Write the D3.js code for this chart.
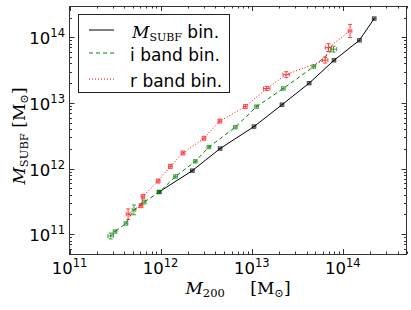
<!DOCTYPE html>
<html><head><meta charset="utf-8">
<script src="https://cdn.jsdelivr.net/npm/d3@7"></script>
<style>body{margin:0;background:#fff}svg{display:block}</style>
</head><body>
<script>
// ---- data (masses in solar masses; errors are half-widths in dex) ----
const subfM200  = [9.6e11, 2.23e12, 4.5e12, 1.06e13, 2.15e13, 4.27e13, 8.0e13, 1.52e14, 2.21e14];
const subfMsubf = [4.4e11, 9.3e11, 2.02e12, 4.37e12, 9.4e12, 2.0e13, 4.46e13, 9.0e13, 1.93e14];
const subfErrX  = [0.02, 0.02, 0.02, 0.02, 0.02, 0.02, 0.02, 0.02, 0.02];
const subfErrY  = [0.025, 0.025, 0.025, 0.025, 0.025, 0.025, 0.025, 0.025, 0.025];

const iM200  = [2.83e11, 3.16e11, 4.17e11, 5.1e11, 6.6e11, 9.7e11, 1.46e12, 2.4e12, 3.39e12, 6.6e12, 1.13e13, 2.22e13, 4.8e13, 7.9e13];
const iMsubf = [9.4e10, 1.1e11, 1.46e11, 2.35e11, 3.1e11, 4.4e11, 7.6e11, 1.29e12, 2.13e12, 4.27e12, 8.8e12, 1.66e13, 3.58e13, 6.6e13];
const iErrX  = [0.03, 0.02, 0.02, 0.02, 0.02, 0.02, 0.02, 0.02, 0.02, 0.02, 0.02, 0.02, 0.02, 0.035];
const iErrY  = [0.045, 0.025, 0.025, 0.075, 0.03, 0.025, 0.025, 0.025, 0.025, 0.025, 0.025, 0.025, 0.025, 0.045];

const rM200  = [4.4e11, 6.1e11, 6.4e11, 9.4e11, 1.28e12, 1.76e12, 2.99e12, 4.47e12, 8.5e12, 1.46e13, 2.39e13, 6.4e13, 6.95e13, 1.2e14];
const rMsubf = [2.02e11, 2.72e11, 3.78e11, 6.46e11, 1.08e12, 1.73e12, 2.9e12, 5.3e12, 8.8e12, 1.66e13, 2.7e13, 4.5e13, 6.97e13, 1.25e14];
const rErrX  = [0.02, 0.02, 0.02, 0.02, 0.02, 0.02, 0.02, 0.02, 0.02, 0.035, 0.035, 0.03, 0.035, 0.02];
const rErrY  = [0.08, 0.03, 0.03, 0.03, 0.03, 0.03, 0.03, 0.03, 0.03, 0.03, 0.045, 0.045, 0.06, 0.1];

const xTickVals = [1e11, 1e12, 1e13, 1e14];
const yTickVals = [1e11, 1e12, 1e13, 1e14];
const xDomain = [1e11, 5e14];
const yDomain = [5e10, 3e14];

const legendLabels = ["bin.", "i band bin.", "r band bin."];

// ---- layout ----
const W = 411, H = 310;
const L = 69.5, R = 406.5, T = 6, B = 254;

const svg = d3.select("body").append("svg").attr("width", W).attr("height", H);
const x = d3.scaleLog().domain(xDomain).range([L, R]);
const y = d3.scaleLog().domain(yDomain).range([B, T]);

const frameCol = "#333";

// ---- ticks (inward, all four sides) ----
const tg = svg.append("g").attr("stroke", frameCol).attr("stroke-width", 1);
x.ticks().forEach(v => {
  const major = xTickVals.some(t => Math.abs(t - v) / t < 1e-6);
  const len = major ? 5 : 2.5;
  const px = Math.round(x(v)) + 0.5;
  tg.append("line").attr("x1", px).attr("x2", px).attr("y1", B).attr("y2", B - len);
  tg.append("line").attr("x1", px).attr("x2", px).attr("y1", T).attr("y2", T + len);
});
y.ticks().forEach(v => {
  const major = yTickVals.some(t => Math.abs(t - v) / t < 1e-6);
  const len = major ? 5 : 2.5;
  const py = Math.round(y(v)) + 0.5;
  tg.append("line").attr("y1", py).attr("y2", py).attr("x1", L).attr("x2", L + len);
  tg.append("line").attr("y1", py).attr("y2", py).attr("x1", R).attr("x2", R - len);
});

// ---- tick labels ----
const sans = "'DejaVu Sans', sans-serif";
xTickVals.forEach(v => {
  const e = Math.round(Math.log10(v));
  const t = svg.append("text").attr("x", x(v)).attr("y", 274).attr("text-anchor", "middle")
    .attr("font-family", sans).attr("font-size", 16.5).attr("fill", "#000");
  t.append("tspan").text("10");
  t.append("tspan").attr("dy", -7).attr("font-size", 11.5).text(e);
});
yTickVals.forEach(v => {
  const e = Math.round(Math.log10(v));
  const t = svg.append("text").attr("x", 65).attr("y", y(v) + 7).attr("text-anchor", "end")
    .attr("font-family", sans).attr("font-size", 16.5).attr("fill", "#000");
  t.append("tspan").text("10");
  t.append("tspan").attr("dy", -7).attr("font-size", 11.5).text(e);
});

// ---- series ----
const series = [
  {xs: subfM200, ys: subfMsubf, ex: subfErrX, ey: subfErrY, color: "#000000", dash: null},
  {xs: iM200, ys: iMsubf, ex: iErrX, ey: iErrY, color: "#008000", dash: "4,3"},
  {xs: rM200, ys: rMsubf, ex: rErrX, ey: rErrY, color: "#ff0000", dash: "1,2"}
];
const plot = svg.append("g");
const line = d3.line().x(d => x(d[0])).y(d => y(d[1]));
series.forEach(s => {
  const pts = s.xs.map((v, i) => [v, s.ys[i]]);
  plot.append("path").attr("d", line(pts)).attr("fill", "none")
    .attr("stroke", s.color).attr("stroke-width", 1)
    .attr("stroke-dasharray", s.dash);
  const eg = plot.append("g").attr("stroke", s.color).attr("stroke-width", 1).attr("opacity", 0.75);
  pts.forEach((p, i) => {
    const cx = x(p[0]), cy = y(p[1]);
    const x0 = x(p[0] / Math.pow(10, s.ex[i])), x1 = x(p[0] * Math.pow(10, s.ex[i]));
    const y0 = y(p[1] / Math.pow(10, s.ey[i])), y1 = y(p[1] * Math.pow(10, s.ey[i]));
    const c = 2;
    eg.append("line").attr("x1", cx).attr("x2", cx).attr("y1", y0).attr("y2", y1);
    eg.append("line").attr("x1", cx - c).attr("x2", cx + c).attr("y1", y0).attr("y2", y0);
    eg.append("line").attr("x1", cx - c).attr("x2", cx + c).attr("y1", y1).attr("y2", y1);
    eg.append("line").attr("x1", x0).attr("x2", x1).attr("y1", cy).attr("y2", cy);
    eg.append("line").attr("x1", x0).attr("x2", x0).attr("y1", cy - c).attr("y2", cy + c);
    eg.append("line").attr("x1", x1).attr("x2", x1).attr("y1", cy - c).attr("y2", cy + c);
  });
});

// ---- frame ----
svg.append("rect").attr("x", L).attr("y", T + 0.5).attr("width", R - L).attr("height", B - T)
  .attr("fill", "none").attr("stroke", frameCol).attr("stroke-width", 1);

// ---- legend ----
const lg = svg.append("g");
lg.append("rect").attr("x", 78.5).attr("y", 14.5).attr("width", 151).attr("height", 78)
  .attr("fill", "#fff").attr("stroke", "#222").attr("stroke-width", 1);
const serif = "'DejaVu Serif', serif";
const rows = [30, 53, 79];
series.forEach((s, i) => {
  lg.append("line").attr("x1", 89).attr("x2", 114).attr("y1", rows[i]).attr("y2", rows[i])
    .attr("stroke", s.color).attr("stroke-width", 1).attr("stroke-dasharray", s.dash);
});
{
  const t = lg.append("text").attr("x", 132).attr("y", rows[0] + 7.5).attr("font-size", 17)
    .attr("font-family", sans).attr("fill", "#000");
  t.append("tspan").attr("font-family", serif).attr("font-style", "italic").text("M");
  t.append("tspan").attr("font-family", serif).attr("font-size", 11).attr("dy", 3).text("SUBF");
  t.append("tspan").attr("dy", -3).text(" " + legendLabels[0]);
}
[1, 2].forEach(i => {
  lg.append("text").attr("x", 130).attr("y", rows[i] + 8).attr("font-size", 17)
    .attr("font-family", sans).attr("fill", "#000").text(legendLabels[i]);
});

// ---- axis labels ----
{
  const t = svg.append("text").attr("x", 238).attr("y", 293.5).attr("text-anchor", "middle")
    .attr("font-family", serif).attr("font-size", 17).attr("fill", "#000");
  t.append("tspan").attr("font-style", "italic").text("M");
  t.append("tspan").attr("font-size", 11.5).attr("dy", 3).text("200");
  t.append("tspan").attr("dy", -3).text("\u2003\u2002[M");
  t.append("tspan").attr("font-size", 11.5).attr("dy", 3).text("\u2299");
  t.append("tspan").attr("dy", -3).text("]");
}
{
  const t = svg.append("text").attr("transform", "translate(25,136) rotate(-90)")
    .attr("text-anchor", "middle")
    .attr("font-family", serif).attr("font-size", 17).attr("fill", "#000");
  t.append("tspan").attr("font-style", "italic").text("M");
  t.append("tspan").attr("font-size", 11.5).attr("dy", 3).text("SUBF");
  t.append("tspan").attr("dy", -3).text(" [M");
  t.append("tspan").attr("font-size", 11.5).attr("dy", 3).text("\u2299");
  t.append("tspan").attr("dy", -3).text("]");
}
</script>
</body></html>
